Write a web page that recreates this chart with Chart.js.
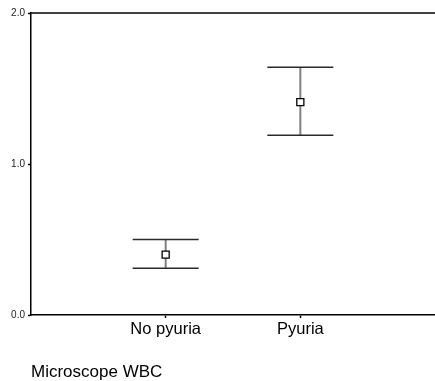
<!DOCTYPE html>
<html>
<head>
<meta charset="utf-8">
<script src="https://cdn.jsdelivr.net/npm/chart.js@4"></script>
<style>
  html, body { margin: 0; padding: 0; background: #fff; }
  #wrap { width: 435px; height: 381px; position: relative; }
</style>
</head>
<body>
<div id="wrap"><canvas id="c" width="435" height="381"></canvas></div>
<script>
const categories = ['No pyuria', 'Pyuria'];
const means = [0.40, 1.41];
const upper = [0.50, 1.64];
const lower = [0.31, 1.19];
const yTicks = [0.0, 1.0, 2.0];
const xTitle = 'Microscope WBC';

const FONT = "Arial, 'Liberation Sans', Helvetica, sans-serif";

const points = categories.map((c, i) => ({ x: i + 1, y: means[i] }));

const errorBarPlugin = {
  id: 'errorBars',
  beforeDatasetsDraw(chart) {
    const { ctx, scales: { x, y } } = chart;
    const capHalf = 33;
    ctx.save();
    categories.forEach((c, i) => {
      const px = x.getPixelForValue(i + 1);
      const yHi = y.getPixelForValue(upper[i]);
      const yLo = y.getPixelForValue(lower[i]);
      ctx.strokeStyle = '#808080';
      ctx.lineWidth = 2;
      ctx.beginPath();
      ctx.moveTo(px, yHi);
      ctx.lineTo(px, yLo);
      ctx.stroke();
      ctx.strokeStyle = '#2a2a2a';
      ctx.lineWidth = 1.5;
      ctx.beginPath();
      ctx.moveTo(px - capHalf, yHi);
      ctx.lineTo(px + capHalf, yHi);
      ctx.moveTo(px - capHalf, yLo);
      ctx.lineTo(px + capHalf, yLo);
      ctx.stroke();
    });
    ctx.restore();
  }
};

const topLinePlugin = {
  id: 'topLine',
  afterDraw(chart) {
    const { ctx, chartArea } = chart;
    ctx.save();
    ctx.strokeStyle = '#000';
    ctx.lineWidth = 1.5;
    ctx.beginPath();
    ctx.moveTo(chartArea.left, chartArea.top);
    ctx.lineTo(chartArea.right, chartArea.top);
    ctx.stroke();
    ctx.restore();
  }
};

new Chart(document.getElementById('c'), {
  type: 'scatter',
  data: {
    datasets: [{
      data: points,
      pointStyle: 'rect',
      pointRadius: 5,
      pointHoverRadius: 5,
      pointBackgroundColor: '#ffffff',
      pointBorderColor: '#000000',
      pointBorderWidth: 1.3,
      showLine: false,
      clip: false
    }]
  },
  options: {
    responsive: false,
    animation: false,
    devicePixelRatio: 1,
    layout: { autoPadding: false, padding: { top: 13, right: 0, left: 0, bottom: 0 } },
    plugins: { legend: { display: false }, tooltip: { enabled: false } },
    scales: {
      x: {
        type: 'linear',
        min: 0,
        max: categories.length + 1,
        afterBuildTicks(scale) {
          scale.ticks = categories.map((c, i) => ({ value: i + 1 }));
        },
        afterFit(scale) {
          scale.height = 66;
          scale.paddingRight = 0;
          scale.paddingLeft = 0;
        },
        ticks: {
          callback: (v) => categories[v - 1] ?? '',
          color: '#000',
          font: { family: FONT, size: 16.5 },
          padding: 2,
          maxRotation: 0,
          autoSkip: false
        },
        grid: { display: true, drawOnChartArea: false, tickLength: 3, color: '#000', tickWidth: 1.5 },
        border: { display: true, color: '#000', width: 1.5 },
        title: {
          display: true,
          text: xTitle,
          align: 'start',
          color: '#000',
          font: { family: FONT, size: 17 },
          padding: { top: 0, bottom: -2 }
        }
      },
      y: {
        min: 0,
        max: 2,
        afterBuildTicks(scale) {
          scale.ticks = yTicks.map(v => ({ value: v }));
        },
        afterFit(scale) {
          scale.width = 31;
          scale.paddingTop = 0;
          scale.paddingBottom = 0;
        },
        ticks: {
          callback: (v) => Number(v).toFixed(1),
          color: '#222',
          font: { family: FONT, size: 10 },
          padding: 3
        },
        grid: { display: true, drawOnChartArea: false, tickLength: 3, color: '#000', tickWidth: 1.5 },
        border: { display: true, color: '#000', width: 1.5 }
      }
    }
  },
  plugins: [errorBarPlugin, topLinePlugin]
});
</script>
</body>
</html>
